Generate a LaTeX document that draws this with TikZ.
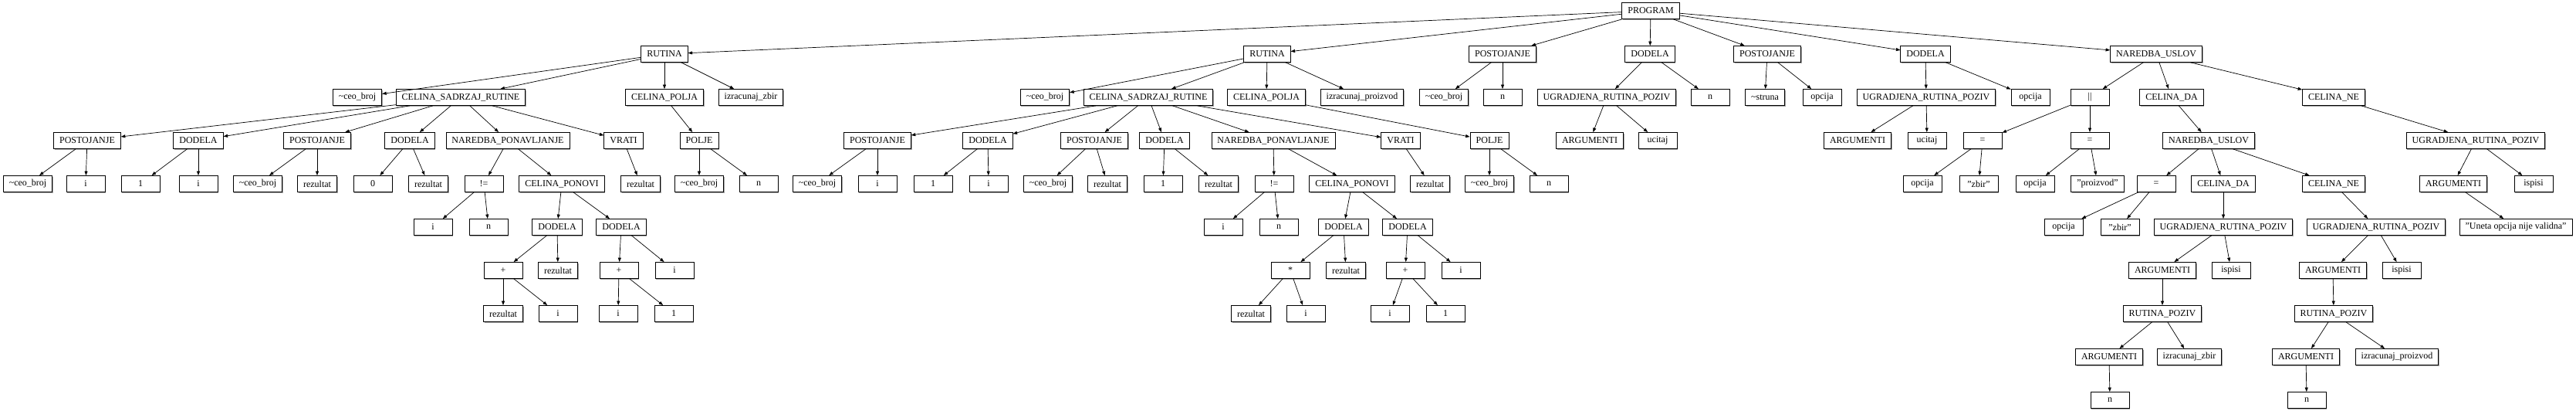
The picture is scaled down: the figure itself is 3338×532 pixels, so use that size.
\documentclass[tikz,border=0pt]{standalone}
\usepackage{fontspec}
\setmainfont{Liberation Serif}
\usetikzlibrary{arrows.meta,shadows}
\tikzset{
  box/.style={draw, fill=white, line width=0.8pt, minimum width=50pt, minimum height=21pt,
    inner xsep=7.5pt, inner ysep=0pt, font=\fontsize{12}{14}\selectfont,
    general shadow={fill=gray!70, shadow xshift=1.1pt, shadow yshift=-1.1pt}},
  edge/.style={-{Triangle[length=5.5pt,width=4pt]}, line width=0.7pt}
}
\newcommand\mynode[4]{\node[box] (#1) at (#2,#3) {#4};}
\newcommand\myedges[2]{\foreach \c in {#2} {\draw[edge] (#1) -- (\c);}}
\newcommand\tl{\textasciitilde}
\begin{document}
\begin{tikzpicture}[x=1pt,y=-1pt]
\useasboundingbox (0,0) rectangle (3338,532);
% level 0
\mynode{P}{2139}{14}{PROGRAM}
% level 1
\mynode{r1}{861}{70}{RUTINA}
\mynode{r2}{1642}{70}{RUTINA}
\mynode{gp1}{1947}{70}{POSTOJANJE}
\mynode{gd1}{2138}{70}{DODELA}
\mynode{gp2}{2290}{70}{POSTOJANJE}
\mynode{gd2}{2495}{70}{DODELA}
\mynode{nu}{2794}{70}{NAREDBA\_USLOV}
% level 2
\mynode{a1}{463}{126}{\tl ceo\_broj}
\mynode{a2}{597}{126}{CELINA\_SADRZAJ\_RUTINE}
\mynode{a3}{861}{126}{CELINA\_POLJA}
\mynode{a4}{973}{126}{izracunaj\_zbir}
\mynode{b1}{1354}{126}{\tl ceo\_broj}
\mynode{b2}{1488}{126}{CELINA\_SADRZAJ\_RUTINE}
\mynode{b3}{1641}{126}{CELINA\_POLJA}
\mynode{b4}{1765}{126}{izracunaj\_proizvod}
\mynode{c1}{1871}{126}{\tl ceo\_broj}
\mynode{c2}{1947}{126}{n}
\mynode{d1}{2082}{126}{UGRADJENA\_RUTINA\_POZIV}
\mynode{d2}{2216}{126}{n}
\mynode{e1}{2287}{126}{\tl struna}
\mynode{e2}{2361}{126}{opcija}
\mynode{f1}{2496}{126}{UGRADJENA\_RUTINA\_POZIV}
\mynode{f2}{2631}{126}{opcija}
\mynode{g1}{2708}{126}{||}
\mynode{g2}{2814}{126}{CELINA\_DA}
\mynode{g3}{3024}{126}{CELINA\_NE}
% level 3
\mynode{h1}{113}{182}{POSTOJANJE}
\mynode{h2}{257}{182}{DODELA}
\mynode{h3}{411}{182}{POSTOJANJE}
\mynode{h4}{531}{182}{DODELA}
\mynode{h5}{658}{182}{NAREDBA\_PONAVLJANJE}
\mynode{h6}{808}{182}{VRATI}
\mynode{h7}{906}{182}{POLJE}
\mynode{i1}{1137}{182}{POSTOJANJE}
\mynode{i2}{1280}{182}{DODELA}
\mynode{i3}{1418}{182}{POSTOJANJE}
\mynode{i4}{1509}{182}{DODELA}
\mynode{i5}{1650}{182}{NAREDBA\_PONAVLJANJE}
\mynode{i6}{1815}{182}{VRATI}
\mynode{i7}{1930}{182}{POLJE}
\mynode{j1}{2060}{182}{ARGUMENTI}
\mynode{j2}{2148}{182}{ucitaj}
\mynode{k1}{2407}{182}{ARGUMENTI}
\mynode{k2}{2497}{182}{ucitaj}
\mynode{l1}{2569}{182}{=}
\mynode{l2}{2708}{182}{=}
\mynode{m1}{2862}{182}{NAREDBA\_USLOV}
\mynode{m2}{3208}{182}{UGRADJENA\_RUTINA\_POZIV}
% level 4
\mynode{n1}{36}{238}{\tl ceo\_broj}
\mynode{n2}{111}{238}{i}
\mynode{n3}{182}{238}{1}
\mynode{n4}{257}{238}{i}
\mynode{n5}{334}{238}{\tl ceo\_broj}
\mynode{n6}{411}{238}{rezultat}
\mynode{n7}{483}{238}{0}
\mynode{n8}{555}{238}{rezultat}
\mynode{n9}{627}{238}{!=}
\mynode{n10}{728}{238}{CELINA\_PONOVI}
\mynode{n11}{830}{238}{rezultat}
\mynode{n12}{906}{238}{\tl ceo\_broj}
\mynode{n13}{983}{238}{n}
\mynode{o1}{1059}{238}{\tl ceo\_broj}
\mynode{o2}{1137}{238}{i}
\mynode{o3}{1209}{238}{1}
\mynode{o4}{1281}{238}{i}
\mynode{o5}{1358}{238}{\tl ceo\_broj}
\mynode{o6}{1435}{238}{rezultat}
\mynode{o7}{1507}{238}{1}
\mynode{o8}{1579}{238}{rezultat}
\mynode{o9}{1651}{238}{!=}
\mynode{o10}{1752}{238}{CELINA\_PONOVI}
\mynode{o11}{1853}{238}{rezultat}
\mynode{o12}{1930}{238}{\tl ceo\_broj}
\mynode{o13}{2007}{238}{n}
\mynode{q1}{2491}{238}{opcija}
\mynode{q2}{2564}{238}{"zbir"}
\mynode{q3}{2637}{238}{opcija}
\mynode{q4}{2718}{238}{"proizvod"}
\mynode{q5}{2794}{238}{=}
\mynode{q6}{2881}{238}{CELINA\_DA}
\mynode{q7}{3024}{238}{CELINA\_NE}
\mynode{q8}{3179}{238}{ARGUMENTI}
\mynode{q9}{3283}{238}{ispisi}
% level 5
\mynode{s1}{561}{294}{i}
\mynode{s2}{633}{294}{n}
\mynode{s3}{722}{294}{DODELA}
\mynode{s4}{805}{294}{DODELA}
\mynode{t1}{1585}{294}{i}
\mynode{t2}{1657}{294}{n}
\mynode{t3}{1741}{294}{DODELA}
\mynode{t4}{1824}{294}{DODELA}
\mynode{u1}{2674}{294}{opcija}
\mynode{u2}{2747}{294}{"zbir"}
\mynode{u3}{2881}{294}{UGRADJENA\_RUTINA\_POZIV}
\mynode{u4}{3079}{294}{UGRADJENA\_RUTINA\_POZIV}
\mynode{u5}{3260}{294}{"Uneta opcija nije validna"}
% level 6
\mynode{v1}{652}{350}{+}
\mynode{v2}{723}{350}{rezultat}
\mynode{v3}{802}{350}{+}
\mynode{v4}{874}{350}{i}
\mynode{w1}{1672}{350}{*}
\mynode{w2}{1744}{350}{rezultat}
\mynode{w3}{1821}{350}{+}
\mynode{w4}{1893}{350}{i}
\mynode{x1}{2802}{350}{ARGUMENTI}
\mynode{x2}{2891}{350}{ispisi}
\mynode{x3}{3023}{350}{ARGUMENTI}
\mynode{x4}{3112}{350}{ispisi}
% level 7
\mynode{y1}{652}{406}{rezultat}
\mynode{y2}{723}{406}{i}
\mynode{y3}{801}{406}{i}
\mynode{y4}{873}{406}{1}
\mynode{z1}{1621}{406}{rezultat}
\mynode{z2}{1692}{406}{i}
\mynode{z3}{1801}{406}{i}
\mynode{z4}{1873}{406}{1}
\mynode{rp1}{2802}{406}{RUTINA\_POZIV}
\mynode{rp2}{3024}{406}{RUTINA\_POZIV}
% level 8
\mynode{aa1}{2733}{462}{ARGUMENTI}
\mynode{aa2}{2837}{462}{izracunaj\_zbir}
\mynode{ab1}{2988}{462}{ARGUMENTI}
\mynode{ab2}{3106}{462}{izracunaj\_proizvod}
% level 9
\mynode{ac1}{2734}{518}{n}
\mynode{ad1}{2989}{518}{n}
% edges
\myedges{P}{r1,r2,gp1,gd1,gp2,gd2,nu}
\myedges{r1}{a1,a2,a3,a4}
\myedges{r2}{b1,b2,b3,b4}
\myedges{gp1}{c1,c2}
\myedges{gd1}{d1,d2}
\myedges{gp2}{e1,e2}
\myedges{gd2}{f1,f2}
\myedges{nu}{g1,g2,g3}
\myedges{a2}{h1,h2,h3,h4,h5,h6}
\myedges{a3}{h7}
\myedges{b2}{i1,i2,i3,i4,i5,i6}
\myedges{b3}{i7}
\myedges{d1}{j1,j2}
\myedges{f1}{k1,k2}
\myedges{g1}{l1,l2}
\myedges{g2}{m1}
\myedges{g3}{m2}
\myedges{h1}{n1,n2}
\myedges{h2}{n3,n4}
\myedges{h3}{n5,n6}
\myedges{h4}{n7,n8}
\myedges{h5}{n9,n10}
\myedges{h6}{n11}
\myedges{h7}{n12,n13}
\myedges{i1}{o1,o2}
\myedges{i2}{o3,o4}
\myedges{i3}{o5,o6}
\myedges{i4}{o7,o8}
\myedges{i5}{o9,o10}
\myedges{i6}{o11}
\myedges{i7}{o12,o13}
\myedges{l1}{q1,q2}
\myedges{l2}{q3,q4}
\myedges{m1}{q5,q6,q7}
\myedges{m2}{q8,q9}
\myedges{n9}{s1,s2}
\myedges{n10}{s3,s4}
\myedges{o9}{t1,t2}
\myedges{o10}{t3,t4}
\myedges{q5}{u1,u2}
\myedges{q6}{u3}
\myedges{q7}{u4}
\myedges{q8}{u5}
\myedges{s3}{v1,v2}
\myedges{s4}{v3,v4}
\myedges{t3}{w1,w2}
\myedges{t4}{w3,w4}
\myedges{u3}{x1,x2}
\myedges{u4}{x3,x4}
\myedges{v1}{y1,y2}
\myedges{v3}{y3,y4}
\myedges{w1}{z1,z2}
\myedges{w3}{z3,z4}
\myedges{x1}{rp1}
\myedges{x3}{rp2}
\myedges{rp1}{aa1,aa2}
\myedges{rp2}{ab1,ab2}
\myedges{aa1}{ac1}
\myedges{ab1}{ad1}
\end{tikzpicture}
\end{document}
